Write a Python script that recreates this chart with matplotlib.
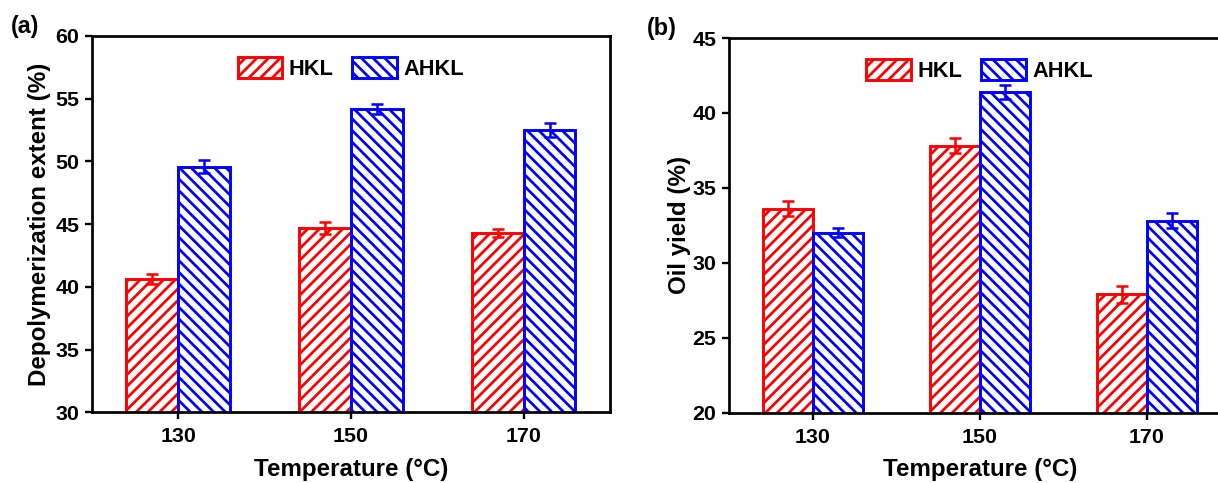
import numpy as np
import matplotlib
matplotlib.use("Agg")
import matplotlib.pyplot as plt

# Temperatures and measured values (mean ± error)
temps = ["130", "150", "170"]
series = ["HKL", "AHKL"]

depoly_hkl = [40.6, 44.7, 44.3]
depoly_hkl_err = [0.4, 0.5, 0.35]
depoly_ahkl = [49.6, 54.2, 52.5]
depoly_ahkl_err = [0.5, 0.4, 0.55]

oil_hkl = [33.6, 37.8, 27.9]
oil_hkl_err = [0.5, 0.5, 0.55]
oil_ahkl = [32.0, 41.4, 32.8]
oil_ahkl_err = [0.3, 0.45, 0.5]

DPI = 140
plt.rcParams["font.family"] = ["Liberation Sans", "DejaVu Sans"]
plt.rcParams["font.weight"] = "bold"
plt.rcParams["hatch.linewidth"] = 1.4

fig = plt.figure(figsize=(1218 / DPI, 483 / DPI), dpi=DPI)
ax_a = fig.add_axes([0.0755, 0.146, 0.4253, 0.7795])
ax_b = fig.add_axes([0.5988, 0.1455, 0.4111, 0.7758])

RED = "#ff0000"
BLUE = "#0000ff"
width = 0.3


def draw_panel(ax, hkl, hkl_err, ahkl, ahkl_err, ylim, yticks, ylabel, ylabel_x):
    x = np.arange(len(temps))
    ax.bar(x - width / 2, hkl, width, facecolor="white", edgecolor=RED,
           hatch="////", linewidth=1.5, label=series[0], zorder=2)
    ax.bar(x + width / 2, ahkl, width, facecolor="white", edgecolor=BLUE,
           hatch="\\\\\\\\", linewidth=1.5, label=series[1], zorder=2)
    ax.errorbar(x - width / 2, hkl, yerr=hkl_err, fmt="none", ecolor=RED,
                elinewidth=1.3, capsize=3.2, capthick=1.3, zorder=3)
    ax.errorbar(x + width / 2, ahkl, yerr=ahkl_err, fmt="none", ecolor=BLUE,
                elinewidth=1.3, capsize=3.2, capthick=1.3, zorder=3)
    ax.set_xlim(-0.5, 2.5)
    ax.set_ylim(*ylim)
    ax.set_xticks(x)
    ax.set_xticklabels(temps)
    ax.set_yticks(yticks)
    for s in ax.spines.values():
        s.set_linewidth(1.4)
    ax.tick_params(axis="both", direction="out", length=3.6, width=1.2,
                   labelsize=11, pad=3)
    ax.tick_params(axis="x", pad=4)
    ax.set_xlabel("Temperature (°C)", fontsize=12.4, fontweight="bold", labelpad=6)
    ax.set_ylabel(ylabel, fontsize=12.4, fontweight="bold")
    ax.yaxis.set_label_coords(ylabel_x, 0.5)
    ax.legend(loc="upper center", bbox_to_anchor=(0.5, 0.985), ncol=2,
              frameon=False, fontsize=11.2, handlelength=2.06, handleheight=1.15,
              handletextpad=0.3, columnspacing=0.85, borderaxespad=0.3)


draw_panel(ax_a, depoly_hkl, depoly_hkl_err, depoly_ahkl, depoly_ahkl_err,
           (30, 60), np.arange(30, 61, 5), "Depolymerization extent (%)", -0.080)
draw_panel(ax_b, oil_hkl, oil_hkl_err, oil_ahkl, oil_ahkl_err,
           (20, 45), np.arange(20, 46, 5), "Oil yield (%)", -0.077)

fig.text(11 / 1218, 1 - 27 / 483, "(a)", fontsize=12, fontweight="bold",
         ha="left", va="center")
fig.text(647 / 1218, 1 - 28 / 483, "(b)", fontsize=12, fontweight="bold",
         ha="left", va="center")

fig.savefig("out.png", dpi=DPI)
